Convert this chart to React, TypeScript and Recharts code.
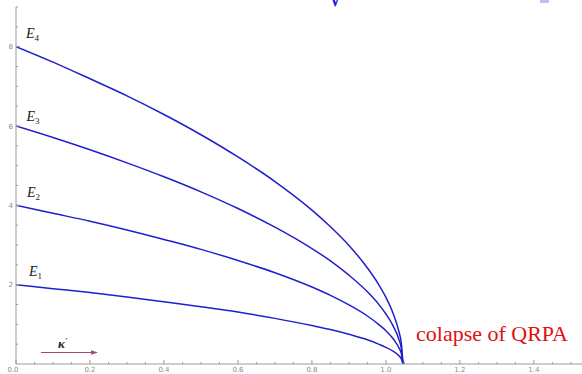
import { LineChart, Line, XAxis, YAxis } from 'recharts';

// kappa' values and the four levels
const kappa = [0, 0.1, 0.2, 0.3, 0.4, 0.5, 0.6, 0.7, 0.8, 0.85, 0.9, 0.95, 0.98, 1.0, 1.02, 1.035, 1.042, 1.046];
const e1 = [2, 1.9, 1.8, 1.69, 1.57, 1.445, 1.31, 1.15, 0.97, 0.87, 0.75, 0.61, 0.5, 0.42, 0.32, 0.21, 0.12, 0];
const e2 = [4, 3.8, 3.6, 3.38, 3.14, 2.89, 2.61, 2.3, 1.94, 1.73, 1.49, 1.21, 1.0, 0.84, 0.63, 0.41, 0.25, 0];
const e3 = [6, 5.71, 5.4, 5.07, 4.72, 4.34, 3.92, 3.45, 2.91, 2.6, 2.24, 1.82, 1.51, 1.26, 0.95, 0.62, 0.37, 0];
const e4 = [8, 7.61, 7.19, 6.76, 6.29, 5.78, 5.22, 4.6, 3.88, 3.46, 2.99, 2.42, 2.01, 1.68, 1.26, 0.82, 0.49, 0];

const xTicks = [0, 0.05, 0.1, 0.15, 0.2, 0.25, 0.3, 0.35, 0.4, 0.45, 0.5, 0.55, 0.6, 0.65, 0.7, 0.75,
  0.8, 0.85, 0.9, 0.95, 1.0, 1.05, 1.1, 1.15, 1.2, 1.25, 1.3, 1.35, 1.4, 1.45, 1.5];
const xLabels = ['0.0', '0.2', '0.4', '0.6', '0.8', '1.0', '1.2', '1.4'];
const yTicks = [0.5, 1, 1.5, 2, 2.5, 3, 3.5, 4, 4.5, 5, 5.5, 6, 6.5, 7, 7.5, 8, 8.5, 9];
const yLabels = ['2', '4', '6', '8'];

const data = kappa.map((k, i) => ({ k, e1: e1[i], e2: e2[i], e3: e3[i], e4: e4[i] }));

const BLUE = '#1f1fcf';
const GREY = '#9a9a9a';

const XTick = ({ x, y, payload }: any) => {
  const label = payload.value.toFixed(1);
  const major = xLabels.includes(label) && Math.abs(payload.value * 10 - Math.round(payload.value * 10)) < 1e-6;
  return (
    <g>
      <line x1={x} x2={x} y1={y} y2={y - (major ? 4 : 2)} stroke={GREY} strokeWidth={1} />
      {major && (
        <text x={label === '0.0' ? x - 3 : x} y={y + 8} textAnchor="middle" fontSize={7}
          fill="#8a8a8a" fontFamily="DejaVu Sans">
          {label}
        </text>
      )}
    </g>
  );
};

const YTick = ({ x, y, payload }: any) => {
  const label = String(payload.value);
  const major = yLabels.includes(label);
  return (
    <g>
      <line x1={x} x2={x + (major ? 4 : 2)} y1={y} y2={y} stroke={GREY} strokeWidth={1} />
      {major && (
        <text x={x - 3} y={y + 2.5} textAnchor="end" fontSize={7} fill="#8a8a8a" fontFamily="DejaVu Sans">
          {label}
        </text>
      )}
    </g>
  );
};

const ELabel = ({ x, y, n }: { x: number; y: number; n: string }) => (
  <text x={x} y={y} fontFamily="Liberation Serif" fontStyle="italic" fontSize={14} fill="#222">
    E<tspan fontSize={9} dy={3} fontStyle="normal">{n}</tspan>
  </text>
);

export default function App() {
  return (
    <div style={{ position: 'absolute', left: 0, top: 0, width: 582, height: 374, background: '#fff' }}>
      <LineChart width={582} height={374} data={data} margin={{ top: 7, right: 0, bottom: 0, left: 0 }}>
        <XAxis
          dataKey="k"
          type="number"
          domain={[0, 1.53]}
          ticks={xTicks}
          interval={0}
          height={10}
          tickSize={0}
          tickMargin={0}
          tickLine={false}
          axisLine={{ stroke: GREY }}
          tick={<XTick />}
          allowDataOverflow
        />
        <YAxis
          type="number"
          domain={[0, 9]}
          ticks={yTicks}
          interval={0}
          width={16}
          tickSize={0}
          tickMargin={0}
          tickLine={false}
          axisLine={{ stroke: GREY }}
          tick={<YTick />}
          allowDataOverflow
        />
        <Line type="monotone" dataKey="e1" stroke={BLUE} strokeWidth={1.5} dot={false} isAnimationActive={false} />
        <Line type="monotone" dataKey="e2" stroke={BLUE} strokeWidth={1.5} dot={false} isAnimationActive={false} />
        <Line type="monotone" dataKey="e3" stroke={BLUE} strokeWidth={1.5} dot={false} isAnimationActive={false} />
        <Line type="monotone" dataKey="e4" stroke={BLUE} strokeWidth={1.5} dot={false} isAnimationActive={false} />
      </LineChart>
      <svg width={582} height={374} style={{ position: 'absolute', left: 0, top: 0, pointerEvents: 'none' }}>
        <text x={328} y={6} fontFamily="DejaVu Serif" fontSize={26} fill="#1a1ae0">√</text>
        <rect x={540} y={0} width={9} height={3} fill="#b8c4f0" />
        <ELabel x={26} y={37.5} n="4" />
        <ELabel x={26.5} y={121} n="3" />
        <ELabel x={27} y={197} n="2" />
        <ELabel x={29} y={276} n="1" />
        <text x={58} y={348} fontFamily="Liberation Serif" fontStyle="italic" fontWeight="bold" fontSize={13} fill="#222">
          κ<tspan fontSize={9} dy={-4} fontWeight="normal">'</tspan>
        </text>
        <line x1={41} y1={352.5} x2={93} y2={352.5} stroke="#a04a7c" strokeWidth={1.2} />
        <polygon points="98,352.5 91,350.3 91,354.7" fill="#a04a7c" />
        <text x={416} y={341} fontFamily="Liberation Serif" fontSize={22} fill="#e01010">colapse of QRPA</text>
      </svg>
    </div>
  );
}
